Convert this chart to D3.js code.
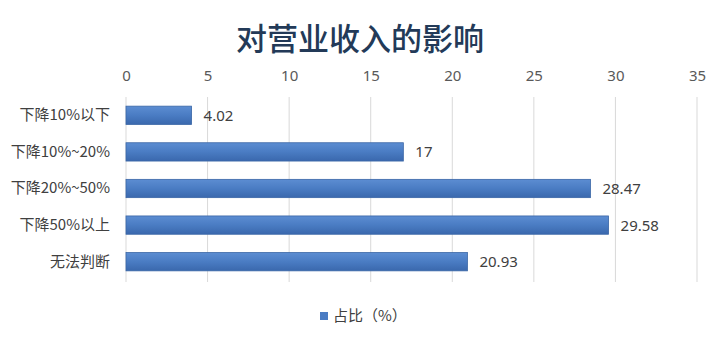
<!DOCTYPE html>
<html>
<head>
<meta charset="utf-8">
<script src="https://cdn.jsdelivr.net/npm/d3@7"></script>
<style>
  body { margin: 0; background: #fff; }
  svg { display: block; font-family: "Noto Sans CJK SC", "Noto Sans", sans-serif; }
</style>
</head>
<body>
<svg id="chart"></svg>
<script>
const categories = ["下降10%以下", "下降10%~20%", "下降20%~50%", "下降50%以上", "无法判断"];
const values = [4.02, 17, 28.47, 29.58, 20.93];
const valueLabels = ["4.02", "17", "28.47", "29.58", "20.93"];
const xTicks = [0, 5, 10, 15, 20, 25, 30, 35];
const seriesName = "占比（%）";
const title = "对营业收入的影响";

const width = 725, height = 342;
const margin = { top: 97, right: 28, bottom: 62, left: 126 };

const svg = d3.select("#chart")
  .attr("width", width)
  .attr("height", height);

const defs = svg.append("defs");
const grad = defs.append("linearGradient")
  .attr("id", "barGrad")
  .attr("x1", 0).attr("y1", 0).attr("x2", 0).attr("y2", 1);
grad.append("stop").attr("offset", "0%").attr("stop-color", "#5c8dd2");
grad.append("stop").attr("offset", "50%").attr("stop-color", "#4a7cc3");
grad.append("stop").attr("offset", "100%").attr("stop-color", "#3a68ad");

const x = d3.scaleLinear()
  .domain([0, 35])
  .range([margin.left, width - margin.right]);

const y = d3.scaleBand()
  .domain(categories)
  .range([margin.top, height - margin.bottom])
  .paddingInner(0.5)
  .paddingOuter(0.25);

// title
svg.append("text")
  .attr("x", 360)
  .attr("y", 50)
  .attr("text-anchor", "middle")
  .style("font-size", "31px")
  .style("font-weight", "500")
  .style("fill", "#233a58")
  .text(title);

// gridlines
svg.append("g")
  .selectAll("line")
  .data(xTicks)
  .join("line")
  .attr("x1", d => x(d))
  .attr("x2", d => x(d))
  .attr("y1", margin.top)
  .attr("y2", height - margin.bottom + 2)
  .style("stroke", "#d9d9d9")
  .style("stroke-width", 1);

// top axis labels
const xAxis = d3.axisTop(x).tickValues(xTicks).tickSize(0).tickPadding(0);
const gx = svg.append("g")
  .attr("transform", `translate(0, 81)`)
  .call(xAxis);
gx.select(".domain").remove();
gx.selectAll("text")
  .style("font-size", "15px")
  .style("fill", "#595959")
  .style("font-family", "\"Noto Sans\", \"Open Sans\", sans-serif");

// category axis
const yAxis = d3.axisLeft(y).tickSize(0).tickPadding(16);
const gy = svg.append("g")
  .attr("transform", `translate(${margin.left}, 0)`)
  .call(yAxis);
gy.select(".domain").remove();
gy.selectAll("text")
  .style("font-size", "15px")
  .style("fill", "#404040")
  .style("font-family", "\"Noto Sans CJK SC\", sans-serif");

// bars
svg.append("g")
  .selectAll("rect")
  .data(values)
  .join("rect")
  .attr("x", x(0))
  .attr("y", (d, i) => y(categories[i]))
  .attr("width", d => x(d) - x(0))
  .attr("height", y.bandwidth())
  .style("fill", "url(#barGrad)")
  .style("stroke", "#3a66a6")
  .style("stroke-width", 0.8);

// value labels
svg.append("g")
  .selectAll("text")
  .data(values)
  .join("text")
  .attr("x", d => x(d) + 12)
  .attr("y", (d, i) => y(categories[i]) + y.bandwidth() / 2)
  .attr("dy", "0.36em")
  .style("font-size", "15px")
  .style("fill", "#404040")
  .style("font-family", "\"Noto Sans\", \"Open Sans\", sans-serif")
  .text((d, i) => valueLabels[i]);

// legend
const legend = svg.append("g").attr("transform", "translate(320, 316)");
legend.append("rect")
  .attr("x", 0).attr("y", -4)
  .attr("width", 8).attr("height", 8)
  .style("fill", "#4a7cc3");
legend.append("text")
  .attr("x", 13)
  .attr("y", 0)
  .attr("dy", "0.36em")
  .style("font-size", "15px")
  .style("fill", "#404040")
  .text(seriesName);
</script>
</body>
</html>
